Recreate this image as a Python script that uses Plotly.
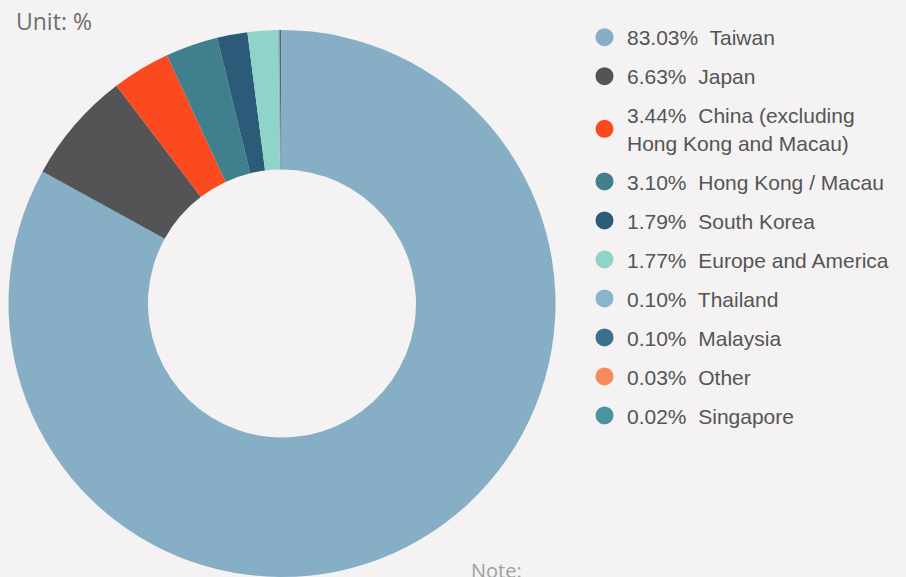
import plotly.graph_objects as go

# Share by market, in percent
markets = [
    "Taiwan", "Japan", "China (excluding<br>Hong Kong and Macau)",
    "Hong Kong / Macau", "South Korea", "Europe and America",
    "Thailand", "Malaysia", "Other", "Singapore",
]
shares = [83.03, 6.63, 3.44, 3.10, 1.79, 1.77, 0.10, 0.10, 0.03, 0.02]
colors = [
    "#86afc6", "#545457", "#fb4a1f", "#3f808c", "#2b5b79",
    "#8fd4c8", "#89b4cd", "#3b6f8d", "#f98a5e", "#4a94a1",
]

W, H = 906, 577
BG = "#f4f2f2"

fig = go.Figure()

fig.add_trace(go.Pie(
    values=shares,
    labels=markets,
    marker=dict(colors=colors, line=dict(width=0)),
    hole=0.49,
    sort=False,
    direction="clockwise",
    rotation=0,
    textinfo="none",
    showlegend=False,
    domain=dict(x=[8 / W, 556 / W], y=[0, 1 - 30 / H]),
))

# Legend entries with round markers
for i, (name, val, col) in enumerate(zip(markets, shares, colors)):
    fig.add_trace(go.Scatter(
        x=[None], y=[None], mode="markers",
        marker=dict(color=col, size=18, symbol="circle",
                    line=dict(color=col, width=2)),
        name=f"{val:.2f}%  {name}",
        legendgroup=f"g{i}",
        showlegend=True,
    ))

fig.update_layout(
    width=W, height=H,
    margin=dict(l=0, r=0, t=0, b=0),
    paper_bgcolor=BG, plot_bgcolor=BG,
    xaxis=dict(visible=False), yaxis=dict(visible=False),
    legend=dict(
        x=582 / W, y=1 - 17 / H, xanchor="left", yanchor="top",
        font=dict(family="Liberation Sans, Arial", size=21, color="#555555"),
        tracegroupgap=8.7,
        itemwidth=35,
        bgcolor="rgba(0,0,0,0)",
    ),
    annotations=[
        dict(text="Unit: %", x=14 / W, y=1 - 3 / H, xref="paper", yref="paper",
             xanchor="left", yanchor="top", showarrow=False,
             font=dict(family="Open Sans", size=23, color="#6e6e6e")),
        dict(text="Note:", x=469 / W, y=1 - 555 / H, xref="paper", yref="paper",
             xanchor="left", yanchor="top", showarrow=False,
             font=dict(family="Open Sans", size=20, color="#a0a0a0")),
    ],
)

fig.write_html("out.html")
